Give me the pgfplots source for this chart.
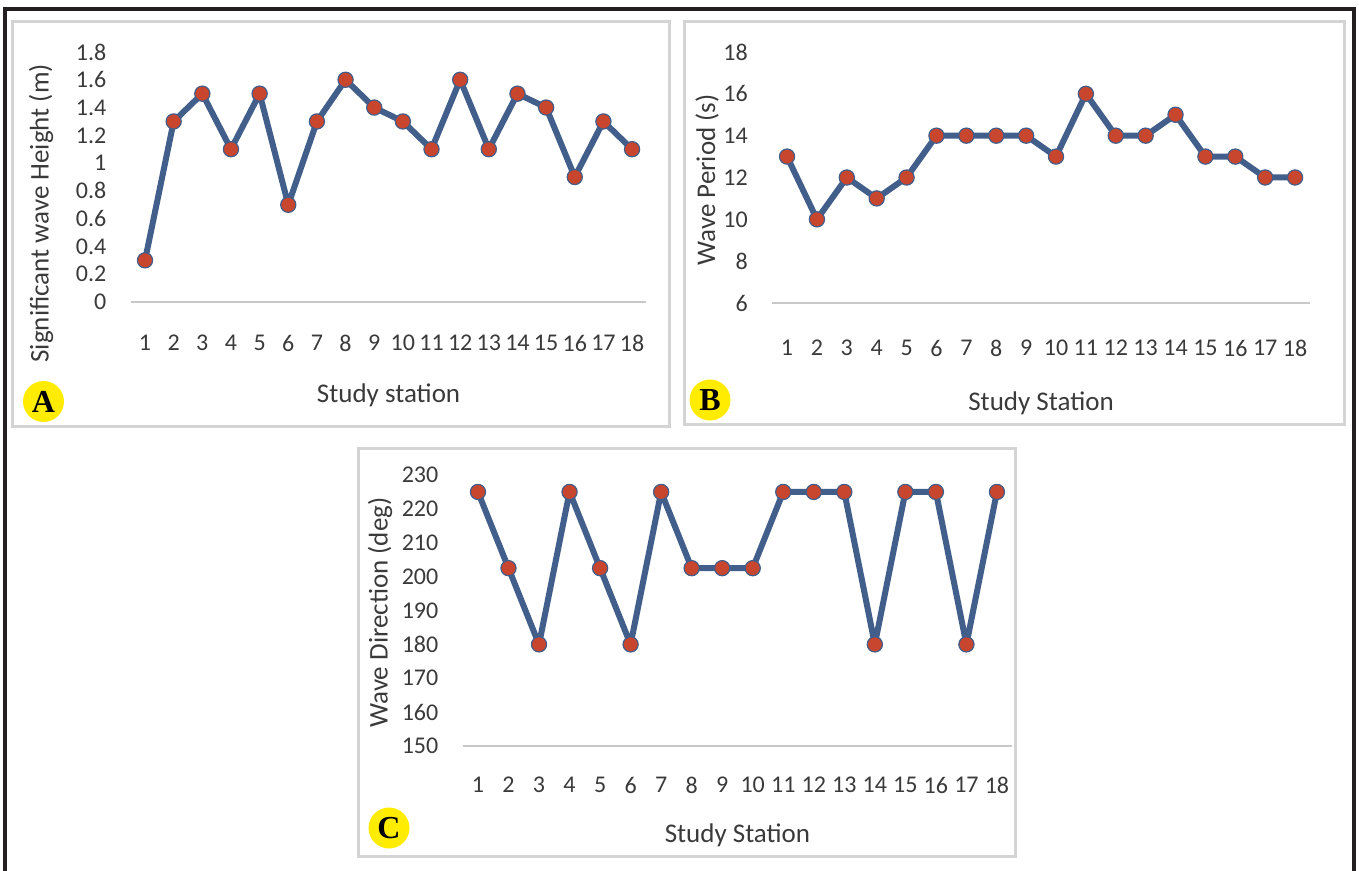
\documentclass[border=0pt]{standalone}
\usepackage{fontspec}
\setmainfont{Carlito}
\newfontfamily\tagfont{Liberation Serif}
\usepackage{pgfplots}
\pgfplotsset{compat=1.18}

\definecolor{waveblue}{RGB}{66,94,138}
\definecolor{wavered}{RGB}{200,69,46}
\definecolor{axisgray}{RGB}{200,200,200}
\definecolor{framegray}{RGB}{212,212,212}
\definecolor{labelgray}{RGB}{58,58,58}
\definecolor{tagyellow}{RGB}{255,236,0}
\definecolor{outerframe}{RGB}{35,31,32}

\pgfplotsset{
  wavepanel/.style={
    scale only axis,
    clip=false,
    xmin=0.5, xmax=18.5,
    xtick={1,...,18},
    axis x line*=bottom,
    axis y line*=left,
    x axis line style={draw=axisgray, line width=1pt},
    y axis line style={draw=none},
    major tick length=0pt,
    tick style={draw=none},
    /pgf/number format/assume math mode=true,
    tick label style={font=\fontsize{12}{13}\selectfont, text=labelgray, inner sep=0pt},
    yticklabel style={anchor=east, xshift=-12pt},
    label style={font=\fontsize{13.5}{15}\selectfont, text=labelgray},
    ylabel style={anchor=center},
    xlabel style={anchor=center},
  },
  waveline/.style={color=waveblue, line width=3pt, line join=round,
    mark=*, mark size=3.8pt,
    mark options={fill=wavered, draw=waveblue, line width=0.6pt}},
}
\tikzset{
  paneltag/.style={circle, fill=tagyellow, minimum size=20.5pt, inner sep=0pt,
    font=\tagfont\bfseries\fontsize{16}{16}\selectfont, text=black},
}

\begin{document}
\begin{tikzpicture}
\useasboundingbox (0,0) rectangle (679.5pt,-435.5pt);

% outer frame, open at the bottom
\draw[outerframe, line width=2pt] (2.65pt,-445pt) -- (2.65pt,-4.5pt) -- (677pt,-4.5pt) -- (677pt,-445pt);

% panel borders
\draw[framegray, line width=1.5pt] (6.25pt,-11pt) rectangle (334.5pt,-213pt);
\draw[framegray, line width=1.5pt] (342pt,-10.75pt) rectangle (672pt,-212pt);
\draw[framegray, line width=1.5pt] (179.35pt,-224pt) rectangle (507.8pt,-428pt);

% (A) significant wave height
\begin{axis}[wavepanel,
  at={(65.35pt,-151pt)}, anchor=south west,
  width=257.85pt, height=125pt,
  ymin=0, ymax=1.8,
  ytick={0,0.2,0.4,0.6,0.8,1,1.2,1.4,1.6,1.8},
  xticklabel style={anchor=center, yshift=-20.5pt},
  xlabel={Study station},
  xlabel style={at={(axis description cs:0.5,0)}, yshift=-46.5pt},
  ylabel={Significant wave Height (m)},
  ylabel style={at={(axis description cs:-0.174,0.355)}},
]
\addplot[waveline] coordinates {
  (1,0.3) (2,1.3) (3,1.5) (4,1.1) (5,1.5) (6,0.7) (7,1.3) (8,1.6) (9,1.4)
  (10,1.3) (11,1.1) (12,1.6) (13,1.1) (14,1.5) (15,1.4) (16,0.9) (17,1.3) (18,1.1)
};
\end{axis}

% (B) wave period
\begin{axis}[wavepanel,
  at={(386.05pt,-151.5pt)}, anchor=south west,
  width=268.95pt, height=125.5pt,
  ymin=6, ymax=18,
  ytick={6,8,10,12,14,16,18},
  xticklabel style={anchor=center, yshift=-22.5pt},
  xlabel={Study Station},
  xlabel style={at={(axis description cs:0.5,0)}, yshift=-50pt},
  ylabel={Wave Period (s)},
  ylabel style={at={(axis description cs:-0.121,0.49)}},
]
\addplot[waveline] coordinates {
  (1,13) (2,10) (3,12) (4,11) (5,12) (6,14) (7,14) (8,14) (9,14)
  (10,13) (11,16) (12,14) (13,14) (14,15) (15,13) (16,13) (17,12) (18,12)
};
\end{axis}

% (C) wave direction
\begin{axis}[wavepanel,
  at={(231.35pt,-373pt)}, anchor=south west,
  width=274.75pt, height=135.5pt,
  ymin=150, ymax=230,
  ytick={150,160,170,180,190,200,210,220,230},
  xticklabel style={anchor=center, yshift=-19.5pt},
  xlabel={Study Station},
  xlabel style={at={(axis description cs:0.5,0)}, yshift=-44.5pt},
  ylabel={Wave Direction (deg)},
  ylabel style={at={(axis description cs:-0.1505,0.4926)}},
]
\addplot[waveline] coordinates {
  (1,225) (2,202.5) (3,180) (4,225) (5,202.5) (6,180) (7,225) (8,202.5) (9,202.5)
  (10,202.5) (11,225) (12,225) (13,225) (14,180) (15,225) (16,225) (17,180) (18,225)
};
\end{axis}

% panel tags
\node[paneltag] at (21.75pt,-200.75pt) {A};
\node[paneltag] at (355pt,-200pt) {B};
\node[paneltag] at (194.5pt,-414pt) {C};
\end{tikzpicture}
\end{document}
